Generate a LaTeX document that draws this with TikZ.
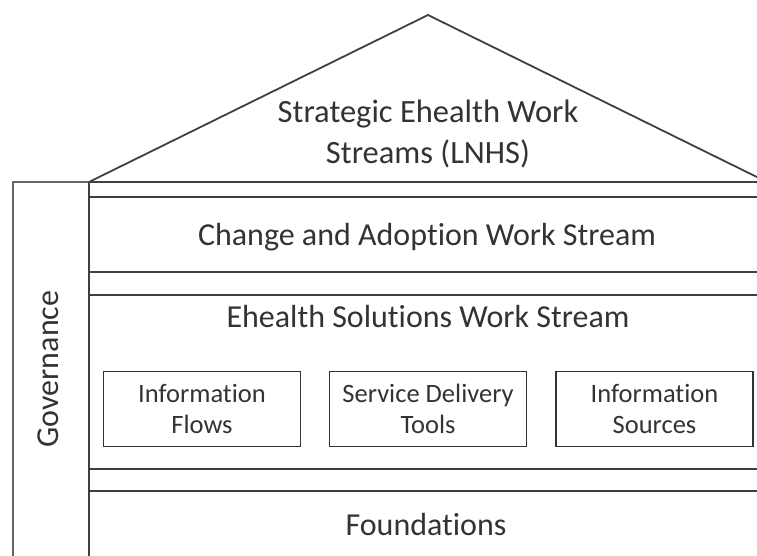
\documentclass[tikz,border=0pt]{standalone}
\usepackage{fontspec}
\setmainfont{Carlito}[Ligatures={NoCommon}]
\begin{document}
\begin{tikzpicture}[x=1pt,y=-1pt,
  edge/.style={draw=black!75,line width=1.8pt},
  biglabel/.style={text=black!80,font=\fontsize{32}{38}\selectfont,inner sep=0pt},
  rooflabel/.style={text=black!80,font=\fontsize{32.5}{41}\selectfont,align=center,inner sep=0pt},
  subbox/.style={draw=black!80,line width=1.8pt,minimum width=197pt,minimum height=75pt,
    text=black!80,font=\fontsize{26.5}{31}\selectfont,align=center,inner sep=0pt}]
\useasboundingbox (0,0) rectangle (757,556);
\clip (0,0) rectangle (757,556);
% governance column
\draw[edge,draw=black!60,line width=2.2pt] (13,570) -- (13,182) -- (89,182);
\draw[edge] (89,570) -- (89,182);
% roof
\draw[edge] (89,182) -- (428,15) -- (767,182);
\draw[edge] (89,182) -- (770,182);
% bands
\draw[edge] (89,197) -- (770,197);
\draw[edge] (89,272) -- (770,272);
\draw[edge] (89,295) -- (770,295);
\draw[edge] (89,469) -- (770,469);
\draw[edge] (89,491) -- (770,491);
% labels
\node[rooflabel] (roof) at (428,134) {Strategic Ehealth Work\\Streams (LNHS)};
\node[biglabel,anchor=base] (change) at (427,245) {Change and Adoption Work Stream};
\node[biglabel,anchor=base] (solutions) at (428,327) {Ehealth Solutions Work Stream};
\node[biglabel,anchor=base] (found) at (426,535) {Foundations};
\node[biglabel,anchor=base,rotate=90] (gov) at (58.5,369) {Governance};
% sub boxes
\node[subbox] (flows) at (202,409) {Information\\Flows};
\node[subbox] (tools) at (428,409) {Service Delivery\\Tools};
\node[subbox] (sources) at (654.5,409) {Information\\Sources};
\end{tikzpicture}
\end{document}
